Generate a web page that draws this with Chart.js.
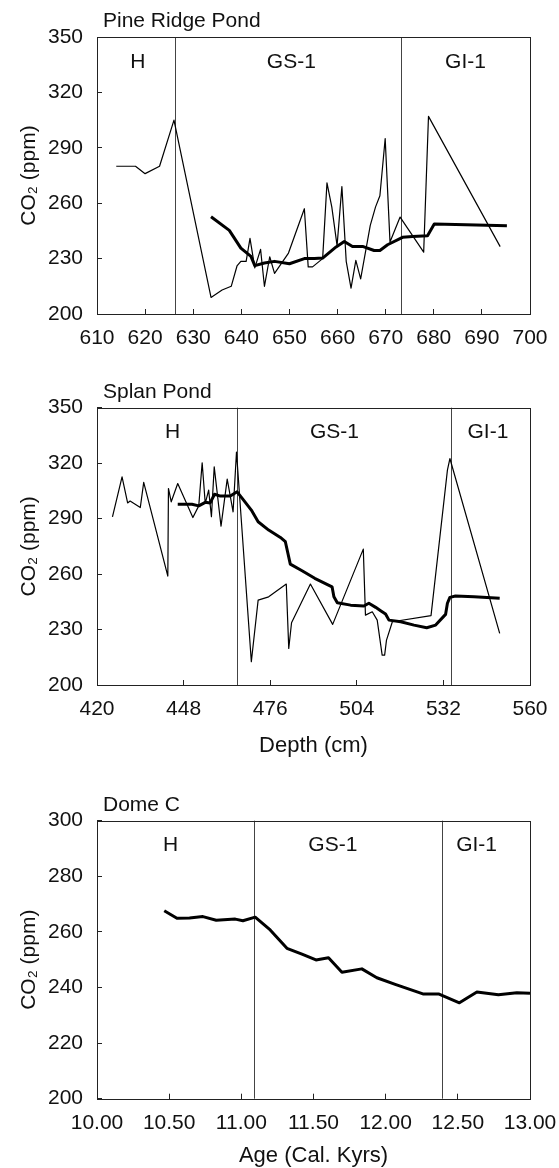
<!DOCTYPE html>
<html lang="en">
<head>
<meta charset="UTF-8">
<title>CO2 records</title>
<script src="https://cdn.jsdelivr.net/npm/chart.js"></script>
<style>
    body { margin: 0; background: #fff; }
    .panel { position: absolute; left: 0; width: 559px; }
    .panel canvas { display: block; }
</style>
</head>
<body>
<div class="panel" style="top:0"><canvas id="pine" width="559" height="365"></canvas></div>
<div class="panel" style="top:365px"><canvas id="splan" width="559" height="395"></canvas></div>
<div class="panel" style="top:760px"><canvas id="dome" width="559" height="408"></canvas></div>

<script>
    // Pine Ridge Pond: raw stomatal record and smoothed curve
    const pineDepthRaw = [614, 618, 620, 623, 626, 633.7, 636, 637.9, 639.1, 639.9, 641, 641.8, 642.8, 644, 644.8, 645.9, 646.9, 649.8, 653.1, 653.9, 654.8, 656.9, 657.8, 658.8, 659.9, 660.9, 661.8, 662.8, 663.8, 664.8, 666.8, 667.9, 668.8, 669.9, 670.9, 673, 677.9, 678.9, 693.8];
    const pineCo2Raw = [280, 280, 276, 280, 305, 209, 213, 215, 226, 228.5, 228.5, 241, 225, 235, 215, 231, 222, 233, 257, 225.5, 225.5, 230, 271, 258, 237, 269, 228.5, 214, 229, 219, 248, 258, 264, 295, 239, 252.5, 233.5, 307, 236.5];
    const pineDepthFit = [633.7, 637.5, 639.9, 642, 642.8, 644.8, 646.9, 650, 653.1, 655.2, 656.9, 659.7, 661.4, 663.1, 665.2, 667.6, 668.8, 670.4, 673.5, 675.6, 678.7, 680.1, 686.7, 695.2];
    const pineCo2Fit = [252.7, 245.3, 235.7, 231.2, 226.2, 227.6, 228.5, 227.2, 230, 230, 230.3, 236.3, 239.3, 236.6, 236.6, 234.4, 234.4, 237.5, 241.5, 242, 242.4, 248.7, 248.3, 247.8];
    const pineBounds = [626.2, 673.2];
    const pineZoneX = [618.5, 650.4, 686.6];
    const pineXTicks = [610, 620, 630, 640, 650, 660, 670, 680, 690, 700];

    // Splan Pond
    const splanDepthRaw = [425, 428.1, 429.9, 430.7, 434, 435.1, 442.9, 443.1, 444, 446.1, 451, 452.9, 454, 455, 456.1, 457, 457.9, 460.1, 462.1, 464, 465.1, 469.9, 472.1, 475.5, 481.2, 482, 482.9, 489, 496.2, 506.1, 506.8, 509, 510.6, 512.2, 513, 513.6, 515.5, 528, 533.3, 534.1, 550.2];
    const splanCo2Raw = [291, 312.6, 298.5, 299.5, 296, 309.6, 258.9, 306.3, 299.1, 309, 290.6, 296.9, 320.2, 298.2, 305.4, 291, 318, 285.9, 311.4, 293.7, 326, 212.6, 245.9, 247.7, 254.6, 219.8, 233.7, 254.6, 232.8, 273.5, 237.8, 239.6, 235.1, 216.2, 216.2, 224.3, 234.2, 237.5, 316.2, 322.5, 227.9];
    const splanDepthFit = [446.1, 450.7, 452.9, 455, 456.6, 458, 459.9, 463.1, 465.3, 467.4, 469.9, 472.1, 475.5, 479.3, 480.9, 482.5, 486.3, 490.4, 496, 496.6, 497.7, 502, 506.3, 507.9, 510.1, 511.7, 513.3, 514.4, 518.2, 522.5, 526.6, 529.5, 532.7, 533.3, 534.1, 535.9, 541.9, 550.2];
    const splanCo2Fit = [297.8, 297.8, 296.9, 298.8, 298.5, 303.2, 302.2, 302.2, 304.5, 300, 294.6, 288.3, 283.8, 279.8, 277.5, 265.4, 261.8, 257.7, 253.1, 247.7, 244.5, 243.2, 242.7, 244.2, 242, 240.2, 238.4, 235.1, 234.2, 232.4, 231, 232.4, 238.2, 244.2, 247.4, 248.1, 247.7, 246.9];
    const splanBounds = [465.3, 534.4];
    const splanZoneX = [444.4, 496.8, 546.4];
    const splanXTicks = [420, 448, 476, 504, 532, 560];

    // Dome C ice core
    const domeAge = [10.466, 10.554, 10.641, 10.734, 10.826, 10.958, 11.011, 11.096, 11.2, 11.316, 11.42, 11.517, 11.604, 11.697, 11.835, 11.939, 12.066, 12.258, 12.366, 12.511, 12.632, 12.781, 12.909, 13.0];
    const domeCo2 = [267.6, 264.9, 265, 265.5, 264.2, 264.6, 264, 265.3, 260.7, 254.1, 252, 249.9, 250.7, 245.5, 246.7, 243.5, 241.1, 237.7, 237.7, 234.5, 238.4, 237.4, 238.1, 237.9];
    const domeBounds = [11.09, 12.39];
    const domeZoneX = [10.51, 11.634, 12.63];
    const domeXTicks = [10, 10.5, 11, 11.5, 12, 12.5, 13];

    const zoneNames = ['H', 'GS-1', 'GI-1'];
    const co2TicksA = [200, 230, 260, 290, 320, 350];
    const co2TicksB = [200, 220, 240, 260, 280, 300];

    const FONT = '"Liberation Sans", Arial, Helvetica, sans-serif';
    Chart.defaults.font.family = FONT;
    Chart.defaults.color = '#111';

    const pts = (xs, ys) => xs.map((x, i) => ({x: x, y: ys[i]}));

    // box, zone boundaries, zone names and panel title
    const framePlugin = {
        id: 'frame',
        beforeDatasetsDraw(chart, args, o) {
            const {ctx, chartArea: a} = chart;
            const x = chart.scales.x;
            ctx.save();
            ctx.strokeStyle = '#444';
            ctx.lineWidth = 1;
            o.bounds.forEach(b => {
                const px = Math.round(x.getPixelForValue(b)) + 0.5;
                ctx.beginPath();
                ctx.moveTo(px, a.top);
                ctx.lineTo(px, a.bottom);
                ctx.stroke();
            });
            ctx.restore();
        },
        afterDraw(chart, args, o) {
            const {ctx, chartArea: a} = chart;
            const x = chart.scales.x;
            ctx.save();
            ctx.strokeStyle = '#222';
            ctx.lineWidth = 1;
            ctx.strokeRect(Math.round(a.left) + 0.5, Math.round(a.top) + 0.5,
                Math.round(a.right - a.left), Math.round(a.bottom - a.top));
            ctx.fillStyle = '#111';
            ctx.font = '21px ' + FONT;
            ctx.textAlign = 'center';
            ctx.textBaseline = 'middle';
            zoneNames.forEach((n, i) => ctx.fillText(n, x.getPixelForValue(o.zoneX[i]), a.top + 25));
            ctx.textAlign = 'left';
            ctx.textBaseline = 'alphabetic';
            ctx.fillText(o.title, a.left + 6, a.top - 10);
            ctx.restore();
        }
    };

    function buildChart(id, p) {
        return new Chart(document.getElementById(id), {
            type: 'line',
            data: {
                datasets: [
                    // thick curve first so it is drawn on top
                    ...(p.fit ? [{data: p.fit, borderColor: '#000', borderWidth: 3}] : []),
                    {data: p.raw, borderColor: '#000', borderWidth: p.rawWidth}
                ]
            },
            options: {
                responsive: false,
                animation: false,
                layout: {padding: {top: p.padTop, right: 29, left: 0, bottom: 0}},
                elements: {point: {radius: 0}, line: {tension: 0, borderJoinStyle: 'round'}},
                plugins: {
                    legend: {display: false},
                    tooltip: {enabled: false},
                    frame: {bounds: p.bounds, zoneX: p.zoneX, title: p.title}
                },
                scales: {
                    x: {
                        type: 'linear',
                        min: p.xTicks[0],
                        max: p.xTicks[p.xTicks.length - 1],
                        afterBuildTicks: s => { s.ticks = p.xTicks.map(v => ({value: v})); },
                        afterFit: s => { s.height = p.xHeight; s.paddingLeft = 0; s.paddingRight = 0; },
                        border: {display: false},
                        grid: {drawOnChartArea: false, tickLength: -5, color: '#222'},
                        ticks: {
                            padding: 17, maxRotation: 0, autoSkip: false,
                            font: {size: 21},
                            callback: v => p.xFormat(v)
                        },
                        title: {
                            display: !!p.xTitle, text: p.xTitle || '',
                            font: {size: 22}, padding: {top: 0, bottom: p.xTitlePad || 0}
                        }
                    },
                    y: {
                        min: p.yTicks[0],
                        max: p.yTicks[p.yTicks.length - 1],
                        afterBuildTicks: s => { s.ticks = p.yTicks.map(v => ({value: v})); },
                        afterFit: s => { s.width = 97; s.paddingTop = 0; s.paddingBottom = 0; },
                        border: {display: false},
                        grid: {drawOnChartArea: false, tickLength: -5, color: '#222'},
                        ticks: {padding: 19, font: {size: 21}},
                        title: {display: true, text: 'CO₂ (ppm)', font: {size: 21}, padding: {top: 17, bottom: 0}}
                    }
                }
            },
            plugins: [framePlugin]
        });
    }

    buildChart('pine', {
        title: 'Pine Ridge Pond',
        raw: pts(pineDepthRaw, pineCo2Raw), rawWidth: 1.2,
        fit: pts(pineDepthFit, pineCo2Fit),
        bounds: pineBounds, zoneX: pineZoneX,
        xTicks: pineXTicks, yTicks: co2TicksA, xFormat: v => String(v),
        padTop: 37, xHeight: 51
    });

    buildChart('splan', {
        title: 'Splan Pond',
        raw: pts(splanDepthRaw, splanCo2Raw), rawWidth: 1.2,
        fit: pts(splanDepthFit, splanCo2Fit),
        bounds: splanBounds, zoneX: splanZoneX,
        xTicks: splanXTicks, yTicks: co2TicksA, xFormat: v => String(v),
        xTitle: 'Depth (cm)', xTitlePad: 1,
        padTop: 42.7, xHeight: 75
    });

    buildChart('dome', {
        title: 'Dome C',
        raw: pts(domeAge, domeCo2), rawWidth: 3,
        fit: null,
        bounds: domeBounds, zoneX: domeZoneX,
        xTicks: domeXTicks, yTicks: co2TicksB, xFormat: v => v.toFixed(2),
        xTitle: 'Age (Cal. Kyrs)', xTitlePad: -1,
        padTop: 60.7, xHeight: 69.3
    });
</script>
</body>
</html>
